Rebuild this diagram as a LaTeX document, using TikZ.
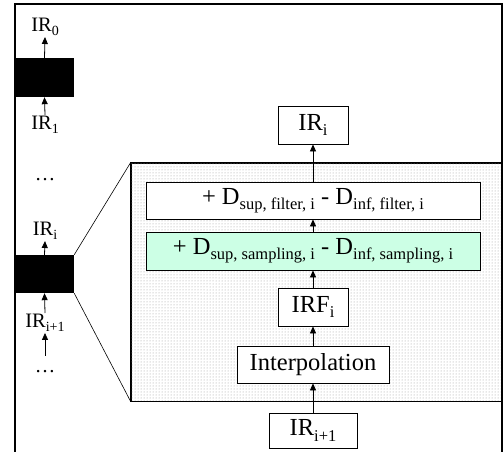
\documentclass[tikz,border=0pt]{standalone}
\usepackage{fontspec}
\setmainfont{Liberation Serif}
\usetikzlibrary{arrows.meta,patterns}
\definecolor{mint}{RGB}{204,255,229}
\newcommand\sbig[1]{\raisebox{-0.22em}{\fontsize{16.5}{16.5}\selectfont #1}}
\newcommand\ssmall[1]{\raisebox{-0.2em}{\fontsize{14}{14}\selectfont #1}}
\begin{document}
\begin{tikzpicture}[x=1pt,y=-1pt,
  arr/.style={-{Triangle[length=7pt,width=6pt]},line width=0.8pt},
  box/.style={draw,line width=0.8pt,fill=white,inner sep=0pt,font=\fontsize{24.5}{24.5}\selectfont},
  blk/.style={fill=black,inner sep=0pt,minimum width=59pt},
  lbl/.style={font=\fontsize{20.5}{20.5}\selectfont,inner sep=1pt},
  panel/.style={draw,line width=0.8pt,fill=white,inner sep=0pt},
  zoomline/.style={line width=0.6pt}]
\useasboundingbox (0,0) rectangle (503,452);
% panel
\node[panel,minimum width=371pt,minimum height=238pt] (panel) at (316.5,282) {};
\fill[pattern=dots,pattern color=gray!80] (panel.north west) rectangle (panel.south east);
\draw[line width=0.8pt] (panel.north east) -- (panel.north west) -- (panel.south west) -- (panel.south east);
% frame
\draw[line width=1.8pt] (15,452) -- (15,4) -- (502,4) -- (502,452);
% right column
\node[box,minimum width=70pt,minimum height=38pt] (iri) at (313,125) {IR\sbig{i}};
\node[box,minimum width=334pt,minimum height=37pt] (filt) at (313,200.5) {+ D\sbig{sup, filter, i} - D\sbig{inf, filter, i}};
\node[box,fill=mint,minimum width=334pt,minimum height=38pt] (samp) at (313,251) {+ D\sbig{sup, sampling, i} - D\sbig{inf, sampling, i}};
\node[box,minimum width=70pt,minimum height=38pt] (irf) at (313,307) {IRF\sbig{i}};
\node[box,minimum width=152pt,minimum height=37pt] (interp) at (313,364.5) {Interpolation};
\node[box,minimum width=88pt,minimum height=35pt] (irn) at (313,430.5) {IR\sbig{i+1}};
\draw[arr] (filt.north) -- (iri.south);
\draw[arr] (samp.north) -- (filt.south);
\draw[arr] (irf.north) -- (samp.south);
\draw[arr] (interp.north) -- (irf.south);
\draw[arr] (irn.north) -- (interp.south);
% left column
\node[blk,minimum height=39pt] (b1) at (44.5,77.5) {};
\node[blk,minimum height=38pt] (b2) at (44.5,274) {};
\node[lbl,anchor=south] (l0) at (45,37) {IR\ssmall{0}};
\draw[arr] (b1.north) -- (l0.south);
\node[lbl,anchor=north] (l1) at (45,115) {IR\ssmall{1}};
\draw[arr] (l1.north) -- (b1.south);
\node[lbl] (d1) at (45,180) {\ldots};
\node[lbl,anchor=south] (li) at (45,241) {IR\ssmall{i}};
\draw[arr] (b2.north) -- (li.south);
\node[lbl,anchor=north] (li1) at (45,313) {IR\ssmall{i+1}};
\node[lbl,text height=15pt,anchor=base] (d2) at (45,372) {\ldots};
\draw[arr] (li1.north) -- (b2.south);
\draw[arr] (d2.north) -- (li1.south);
% zoom lines
\draw[zoomline] (b2.north east) -- (panel.north west);
\draw[zoomline] (b2.south east) -- (panel.south west);
\end{tikzpicture}
\end{document}
